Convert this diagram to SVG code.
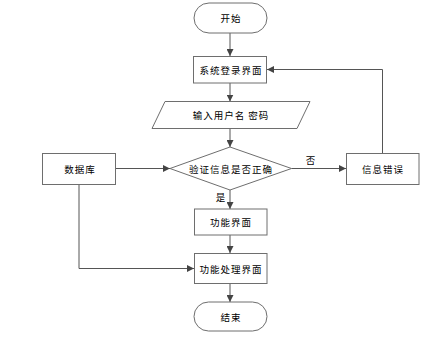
<svg xmlns="http://www.w3.org/2000/svg" width="445" height="344" viewBox="0 0 445 344">
<defs>
<marker id="ah" viewBox="0 0 10 10" refX="10" refY="5" markerWidth="7" markerHeight="7" markerUnits="userSpaceOnUse" orient="auto">
<path d="M0,0 L10,5 L0,10 Z" fill="#444"/>
</marker>
<style>
.s{fill:#fff;stroke:#6e6e6e;stroke-width:1}
.t{font-family:"Noto Sans CJK SC","Noto Sans",sans-serif;font-size:9.5px;fill:#000;text-anchor:middle;dominant-baseline:central;letter-spacing:1px}
.c{fill:none;stroke:#555;stroke-width:1;marker-end:url(#ah)}
</style>
</defs>
<rect width="445" height="344" fill="#fff"/>
<g id="edges">
<path class="c" d="M230,33 V56"/>
<path class="c" d="M230,83 V101.5"/>
<path class="c" d="M230,128.5 V147"/>
<path class="c" d="M116,168.5 H170"/>
<path class="c" d="M291.5,168.5 H346"/>
<path class="c" d="M382.5,153 V69.5 H267"/>
<path class="c" d="M230,190 V209"/>
<path class="c" d="M230,235 V253"/>
<path class="c" d="M79,184 V268.5 H194"/>
<path class="c" d="M230,283.5 V302"/>
<text class="t" x="311" y="160">否</text>
<text class="t" x="221" y="197">是</text>
</g>
<g id="start"><rect class="s" x="194" y="3" width="73" height="30" rx="15"/><text class="t" x="231" y="18">开始</text></g>
<g id="login"><rect class="s" x="193.5" y="56.5" width="73" height="26.5"/><text class="t" x="231" y="70">系统登录界面</text></g>
<g id="input"><polygon class="s" points="165,101.5 310,101.5 297,128.5 152,128.5"/><text class="t" x="231" y="115">输入用户名 密码</text></g>
<g id="verify"><polygon class="s" points="230,147 291.5,168.5 230,190 170,168.5"/><text class="t" x="231" y="169">验证信息是否正确</text></g>
<g id="db"><rect class="s" x="42.5" y="153.5" width="73" height="31"/><text class="t" x="80" y="169">数据库</text></g>
<g id="err"><rect class="s" x="346.5" y="153.5" width="72.5" height="31"/><text class="t" x="383" y="169">信息错误</text></g>
<g id="func"><rect class="s" x="194.5" y="209" width="72.5" height="26"/><text class="t" x="231" y="222">功能界面</text></g>
<g id="proc"><rect class="s" x="194.5" y="253.5" width="72.5" height="30"/><text class="t" x="231" y="268.5">功能处理界面</text></g>
<g id="end"><rect class="s" x="194" y="302" width="73" height="29" rx="14.5"/><text class="t" x="231" y="317">结束</text></g>
</svg>
